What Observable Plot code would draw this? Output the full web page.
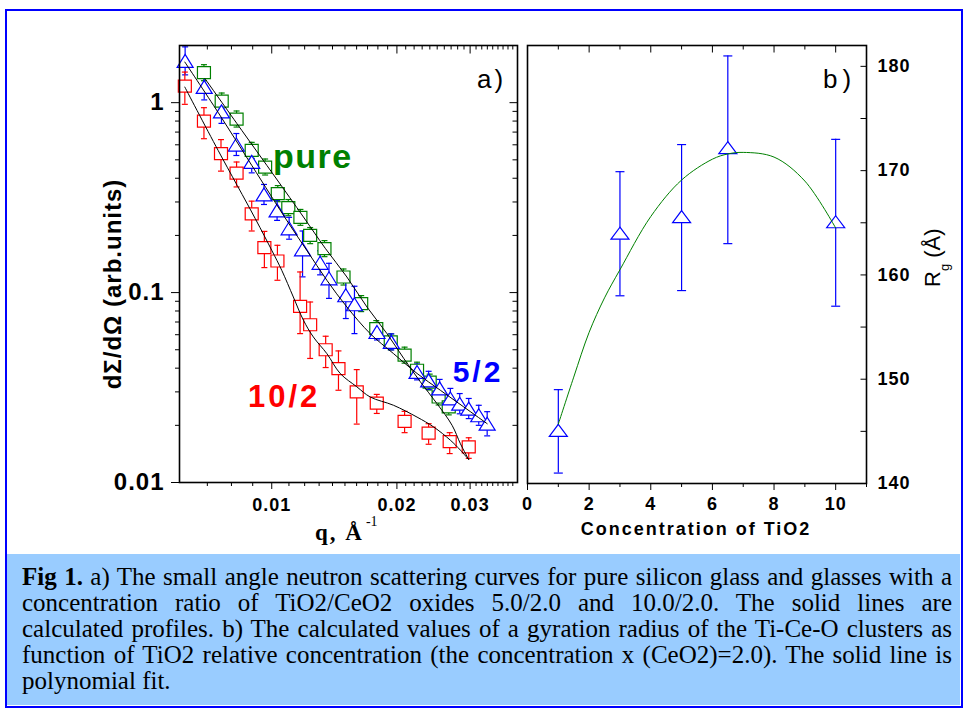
<!DOCTYPE html>
<html>
<head>
<meta charset="utf-8">
<script src="https://cdn.jsdelivr.net/npm/d3@7"></script>
<script src="https://cdn.jsdelivr.net/npm/@observablehq/plot@0.6"></script>
<style>
 html,body{margin:0;padding:0;background:#fff;}
 #wrap{position:relative;width:967px;height:715px;overflow:hidden;background:#fff;}
 #frame{position:absolute;left:5px;top:9px;width:954px;height:695px;border:2px solid #0000ff;}
 #pa{position:absolute;left:0;top:0;}
 #pb{position:absolute;left:520px;top:0;}
 #cap{position:absolute;left:7px;top:554px;width:953px;height:151px;background:#99ccff;font-family:"Liberation Serif","Times New Roman",serif;font-size:25px;color:#000;}
 #cap .ln{position:absolute;left:15px;width:930px;height:26px;line-height:26px;text-align:justify;text-align-last:justify;}
 #cap .ln.last{text-align-last:left;}
</style>
</head>
<body>
<div id="wrap">
 <div id="cap"></div>
 <div id="frame"></div>
 <div id="pa"></div>
 <div id="pb"></div>
</div>
<script>
// ---------- Panel a data (SANS curves) ----------
const pureQ  = [0.00687, 0.00758, 0.00823, 0.00895, 0.00964, 0.01034, 0.01096, 0.01172, 0.01237, 0.01339, 0.01488, 0.01641, 0.01784, 0.01933, 0.02087, 0.02236, 0.02398, 0.02520, 0.02665];
const pureI  = [1.438, 1.020, 0.820, 0.561, 0.458, 0.332, 0.280, 0.249, 0.200, 0.1704, 0.1208, 0.0875, 0.0646, 0.0550, 0.0468, 0.0390, 0.0338, 0.0282, 0.0250];
const pureLo = [1.305, 0.926, 0.744, 0.509, 0.416, 0.301, 0.254, 0.226, 0.181, 0.1546, 0.1096, 0.0794, 0.0586, 0.0499, 0.0425, 0.0354, 0.0307, 0.0256, 0.0227];
const pureHi = [1.585, 1.124, 0.904, 0.618, 0.505, 0.366, 0.309, 0.274, 0.220, 0.1878, 0.1331, 0.0964, 0.0712, 0.0606, 0.0516, 0.0430, 0.0372, 0.0311, 0.0276];

const fiveQ  = [0.00619, 0.00688, 0.00757, 0.00822, 0.00895, 0.00958, 0.01030, 0.01101, 0.01186, 0.01307, 0.01373, 0.01507, 0.01581, 0.01791, 0.01939, 0.02236, 0.02384, 0.02534, 0.02689, 0.02832, 0.02977, 0.03147, 0.03297];
const fiveI  = [1.660, 1.211, 0.900, 0.602, 0.488, 0.329, 0.271, 0.218, 0.169, 0.1435, 0.1189, 0.0968, 0.0868, 0.0620, 0.0550, 0.0382, 0.0345, 0.0313, 0.0277, 0.0260, 0.0245, 0.0226, 0.0204];
const fiveLo = [1.401, 1.034, 0.778, 0.527, 0.427, 0.291, 0.240, 0.191, 0.121, 0.124, 0.0932, 0.0730, 0.0608, 0.0563, 0.0499, 0.0347, 0.0309, 0.0281, 0.0245, 0.0230, 0.0217, 0.0200, 0.0176];
const fiveHi = [1.967, 1.418, 1.041, 0.688, 0.558, 0.371, 0.306, 0.249, 0.211, 0.166, 0.1426, 0.1190, 0.1080, 0.0683, 0.0606, 0.0421, 0.0385, 0.0349, 0.0313, 0.0294, 0.0277, 0.0255, 0.0236];

const redQ  = [0.00618, 0.00687, 0.00755, 0.00823, 0.00895, 0.00960, 0.01032, 0.01170, 0.01237, 0.01348, 0.01447, 0.01601, 0.01789, 0.02087, 0.02384, 0.02679, 0.02977];
const redI  = [1.223, 0.800, 0.539, 0.426, 0.260, 0.1725, 0.1467, 0.0847, 0.0677, 0.0500, 0.0398, 0.0300, 0.0262, 0.0210, 0.0182, 0.0164, 0.0154];
const redLo = [0.980, 0.646, 0.436, 0.360, 0.211, 0.1354, 0.1161, 0.0608, 0.0450, 0.0403, 0.0306, 0.0203, 0.0231, 0.0183, 0.0159, 0.0142, 0.0134];
const redHi = [1.449, 0.941, 0.639, 0.487, 0.303, 0.210, 0.1774, 0.1284, 0.0892, 0.0589, 0.0493, 0.0393, 0.0291, 0.0237, 0.0204, 0.0183, 0.0172];

// calculated profiles (solid lines)
const fitPureQ = [0.00691, 0.00847, 0.01019, 0.01192, 0.01345, 0.01516, 0.01694, 0.01893, 0.02076, 0.02277, 0.02498, 0.02715, 0.02843, 0.02977];
const fitPureI = [1.338, 0.715, 0.406, 0.250, 0.1711, 0.1208, 0.0840, 0.0608, 0.0451, 0.0339, 0.0260, 0.0200, 0.0160, 0.0132];
const fitFiveQ = [0.00618, 0.00743, 0.00895, 0.01095, 0.01214, 0.01357, 0.01516, 0.01725, 0.01963, 0.02236, 0.02544, 0.02896, 0.03297];
const fitFiveI = [1.636, 0.889, 0.468, 0.234, 0.167, 0.1161, 0.0840, 0.0608, 0.0477, 0.0375, 0.0306, 0.0250, 0.0204];
const fitRedQ  = [0.00618, 0.00743, 0.00912, 0.01000, 0.01057, 0.01127, 0.01192, 0.01259, 0.01357, 0.01461, 0.01602, 0.01725, 0.01963, 0.02236, 0.02452, 0.02689, 0.02843, 0.02977];
const fitRedI  = [1.208, 0.561, 0.246, 0.167, 0.1310, 0.0948, 0.0715, 0.0584, 0.0477, 0.0375, 0.0319, 0.0282, 0.0255, 0.0221, 0.0196, 0.0167, 0.0148, 0.0132];

// ticks panel a
const aXDomain = [0.006, 0.039];
const aYDomain = [0.01, 2];
const aXMajor = [0.01, 0.02, 0.03];
const aXMinor = [0.007, 0.008, 0.009, 0.011, 0.012, 0.013, 0.014, 0.015, 0.016, 0.017, 0.018, 0.019, 0.021, 0.022, 0.023, 0.024, 0.025, 0.026, 0.027, 0.028, 0.029, 0.031, 0.032, 0.033, 0.034, 0.035, 0.036, 0.037, 0.038];
const aYMajor = [0.01, 0.1, 1];
const aYMinor = [0.02, 0.03, 0.04, 0.05, 0.06, 0.07, 0.08, 0.09, 0.2, 0.3, 0.4, 0.5, 0.6, 0.7, 0.8, 0.9];

// ---------- Panel b data (gyration radius) ----------
const conc = [1, 3, 5, 6.5, 10];
const rg   = [145.1, 164.0, 165.6, 172.2, 165.1];
const rgLo = [141.0, 158.0, 158.5, 163.0, 157.0];
const rgHi = [149.0, 169.9, 172.5, 181.0, 173.0];
const polyX = [1, 1.5, 2, 2.5, 3, 4, 5, 6, 6.5, 7, 8, 9, 10];
const polyY = [145.7, 150.2, 154.5, 157.8, 160.5, 165.6, 169.1, 171.1, 171.6, 171.75, 171.3, 169.0, 164.5];

const bXDomain = [0, 11];
const bYDomain = [140, 182];
const bXMajor = [0, 2, 4, 6, 8, 10];
const bXMinor = [1, 3, 5, 7, 9, 11];
const bYTicks = [140, 145, 150, 155, 160, 165, 170, 175, 180];
const bYLabels = [140, 150, 160, 170, 180];

const captionLines = [
  ["Fig 1.", " a) The small angle neutron scattering curves for pure silicon glass and glasses with a"],
  ["", "concentration ratio of TiO2/CeO2 oxides 5.0/2.0 and 10.0/2.0. The solid lines are"],
  ["", "calculated profiles. b) The calculated values of a gyration radius of the Ti-Ce-O clusters as"],
  ["", "function of TiO2 relative concentration (the concentration x (CeO2)=2.0). The solid line is"],
  ["", "polynomial fit."]
];

const GREEN = "#008000", BLUE = "#0000ff", RED = "#ff0000";
const SANS = "Liberation Sans, Arial, sans-serif";
const SERIF = "Liberation Serif, Times New Roman, serif";

// ---------- custom symbols ----------
const tri = (w, h) => ({draw(c) { c.moveTo(0, -h / 2); c.lineTo(w / 2, h / 2); c.lineTo(-w / 2, h / 2); c.closePath(); }});
const sq = (w, h) => ({draw(c) { c.moveTo(-w / 2, -h / 2); c.lineTo(w / 2, -h / 2); c.lineTo(w / 2, h / 2); c.lineTo(-w / 2, h / 2); c.closePath(); }});
const hcap = (w) => ({draw(c) { c.moveTo(-w / 2, 0); c.lineTo(w / 2, 0); }});
const vtick = (len) => ({draw(c) { c.moveTo(0, 0); c.lineTo(0, len); }});
const htick = (len) => ({draw(c) { c.moveTo(0, 0); c.lineTo(len, 0); }});

const rows = (Q, I, Lo, Hi) => Q.map((q, i) => ({q, I: I[i], lo: Lo ? Lo[i] : null, hi: Hi ? Hi[i] : null}));
const pure = rows(pureQ, pureI, pureLo, pureHi);
const five = rows(fiveQ, fiveI, fiveLo, fiveHi);
const red = rows(redQ, redI, redLo, redHi);
const fitPure = rows(fitPureQ, fitPureI);
const fitFive = rows(fitFiveQ, fitFiveI);
const fitRed = rows(fitRedQ, fitRedI);

const err = (data, color, cw) => [
  Plot.ruleX(data, {x: "q", y1: "lo", y2: "hi", stroke: color, strokeWidth: 1.2}),
  Plot.dot(data, {x: "q", y: "lo", symbol: hcap(cw), stroke: color, strokeWidth: 1.2}),
  Plot.dot(data, {x: "q", y: "hi", symbol: hcap(cw), stroke: color, strokeWidth: 1.2})
];

const svgA = Plot.plot({
  width: 525, height: 560,
  marginLeft: 179, marginRight: 8, marginTop: 45, marginBottom: 78,
  style: {fontFamily: SANS, background: "transparent", overflow: "visible"},
  x: {type: "log", domain: aXDomain},
  y: {type: "log", domain: aYDomain},
  marks: [
    ...err(pure, GREEN, 6),
    ...err(five, BLUE, 6),
    ...err(red, RED, 6),
    Plot.dot(pure, {x: "q", y: "I", symbol: sq(13, 12), stroke: GREEN, fill: "white", strokeWidth: 1.2}),
    Plot.dot(five, {x: "q", y: "I", symbol: tri(16, 13), stroke: BLUE, fill: "white", strokeWidth: 1.2}),
    Plot.dot(red, {x: "q", y: "I", symbol: sq(13, 12), stroke: RED, fill: "white", strokeWidth: 1.2}),
    Plot.line(fitPure, {x: "q", y: "I", stroke: "black", strokeWidth: 1, curve: "catmull-rom"}),
    Plot.line(fitFive, {x: "q", y: "I", stroke: "black", strokeWidth: 1, curve: "catmull-rom"}),
    Plot.line(fitRed, {x: "q", y: "I", stroke: "black", strokeWidth: 1, curve: "catmull-rom"}),
    // axes
    Plot.axisY(aYMajor, {anchor: "left", tickSize: 8, tickPadding: 7, tickFormat: (d) => String(d), fontSize: 24, fontWeight: "bold", fontFamily: SANS, label: null}),
    Plot.axisY(aYMinor, {anchor: "left", tickSize: 4, tickFormat: () => "", label: null}),
    Plot.axisX(aXMajor, {anchor: "bottom", tickSize: 7, tickPadding: 9, tickFormat: (d) => String(d), fontSize: 18, fontWeight: "bold", fontFamily: SANS, label: null}),
    Plot.axisX(aXMinor, {anchor: "bottom", tickSize: 4, tickFormat: () => "", label: null}),
    Plot.dot(aYMajor, {y: (d) => d, frameAnchor: "right", symbol: htick(-8), stroke: "black", strokeWidth: 1}),
    Plot.dot(aYMinor, {y: (d) => d, frameAnchor: "right", symbol: htick(-5), stroke: "black", strokeWidth: 1}),
    Plot.dot(aXMajor, {x: (d) => d, frameAnchor: "top", symbol: vtick(8), stroke: "black", strokeWidth: 1}),
    Plot.dot(aXMinor, {x: (d) => d, frameAnchor: "top", symbol: vtick(4), stroke: "black", strokeWidth: 1}),
    Plot.frame({stroke: "black", strokeWidth: 1.6})
  ]
});
document.getElementById("pa").appendChild(svgA);

const polyRows = polyX.map((x, i) => ({x, y: polyY[i]}));
const rgRows = conc.map((x, i) => ({x, y: rg[i], lo: rgLo[i], hi: rgHi[i]}));

const svgB = Plot.plot({
  width: 447, height: 560,
  marginLeft: 7, marginRight: 101, marginTop: 45, marginBottom: 77,
  style: {fontFamily: SANS, background: "transparent", overflow: "visible"},
  x: {domain: bXDomain},
  y: {domain: bYDomain},
  marks: [
    Plot.ruleX(rgRows, {x: "x", y1: "lo", y2: "hi", stroke: BLUE, strokeWidth: 1.2}),
    Plot.dot(rgRows, {x: "x", y: "lo", symbol: hcap(9), stroke: BLUE, strokeWidth: 1.2}),
    Plot.dot(rgRows, {x: "x", y: "hi", symbol: hcap(9), stroke: BLUE, strokeWidth: 1.2}),
    Plot.dot(rgRows, {x: "x", y: "y", symbol: tri(18, 12), stroke: BLUE, fill: "white", strokeWidth: 1.2}),
    Plot.line(polyRows, {x: "x", y: "y", stroke: GREEN, strokeWidth: 1, curve: "catmull-rom"}),
    Plot.axisX(bXMajor, {anchor: "bottom", tickSize: 7, tickPadding: 7, fontSize: 18, fontWeight: "bold", fontFamily: SANS, label: null}),
    Plot.axisX(bXMinor, {anchor: "bottom", tickSize: 4, tickFormat: () => "", label: null}),
    Plot.axisY(bYLabels, {anchor: "right", tickSize: 0, tickPadding: 11, fontSize: 18, fontWeight: "bold", fontFamily: SANS, label: null}),
    Plot.dot(bYTicks, {y: (d) => d, frameAnchor: "right", symbol: htick(-6), stroke: "black", strokeWidth: 1}),
    Plot.dot(bXMajor, {x: (d) => d, frameAnchor: "top", symbol: vtick(7), stroke: "black", strokeWidth: 1}),
    Plot.dot(bXMinor, {x: (d) => d, frameAnchor: "top", symbol: vtick(4), stroke: "black", strokeWidth: 1}),
    Plot.frame({stroke: "black", strokeWidth: 1.6})
  ]
});
document.getElementById("pb").appendChild(svgB);

// letter spacing on tick labels
d3.selectAll([svgA, svgB]).selectAll("g[aria-label$='tick label'] text").style("letter-spacing", "1px");

// ---------- annotations ----------
const sa = d3.select(svgA);
const addText = (sel, x, y, size, txt, opts = {}) => sel.append("text")
  .attr("x", x).attr("y", y).attr("font-size", size).attr("text-anchor", opts.anchor || "start")
  .attr("font-weight", opts.weight || "normal").attr("letter-spacing", opts.ls || "0px")
  .attr("fill", opts.fill || "black").text(txt);
addText(sa, 477, 88, 26, "a)", {ls: "3px"});
addText(sa, 273, 168, 34, "pure", {weight: "bold", ls: "1.5px", fill: GREEN});
addText(sa, 248, 406.7, 31, "10/2", {weight: "bold", ls: "3px", fill: RED});
addText(sa, 452.7, 381.7, 30, "5/2", {weight: "bold", ls: "3px", fill: BLUE});
sa.append("text").attr("transform", "translate(121,284) rotate(-90)").attr("text-anchor", "middle")
  .attr("font-size", 24).attr("font-weight", "bold").attr("letter-spacing", "1px").text("dΣ/dΩ (arb.units)");
const xt = sa.append("text").attr("x", 315).attr("y", 540).attr("text-anchor", "start").attr("font-family", SERIF).attr("font-weight", "bold").attr("font-size", 23).attr("letter-spacing", "2px");
xt.append("tspan").text("q, Å");
xt.append("tspan").attr("dy", -14).attr("dx", 2).attr("font-size", 14).attr("font-weight", "normal").attr("letter-spacing", "0px").text("-1");

const sb = d3.select(svgB);
addText(sb, 303, 88, 26, "b)", {ls: "5px"});
addText(sb, 176, 535, 18, "Concentration of TiO2", {weight: "bold", ls: "2px", anchor: "middle"});
const rt = sb.append("text").attr("transform", "translate(420,287) rotate(-90)").attr("text-anchor", "start").attr("font-size", 22);
rt.append("tspan").text("R");
rt.append("tspan").attr("dy", 9).attr("font-size", 13).text("g");
rt.append("tspan").attr("dy", -9).text(" (Å)");

// ---------- caption ----------
const cap = d3.select("#cap");
captionLines.forEach(([b, t], i) => {
  const ln = cap.append("div").attr("class", "ln" + (i === captionLines.length - 1 ? " last" : "")).style("top", (10 + 26 * i) + "px");
  if (b) ln.append("b").text(b);
  ln.append("span").text(t);
});
</script>
</body>
</html>
